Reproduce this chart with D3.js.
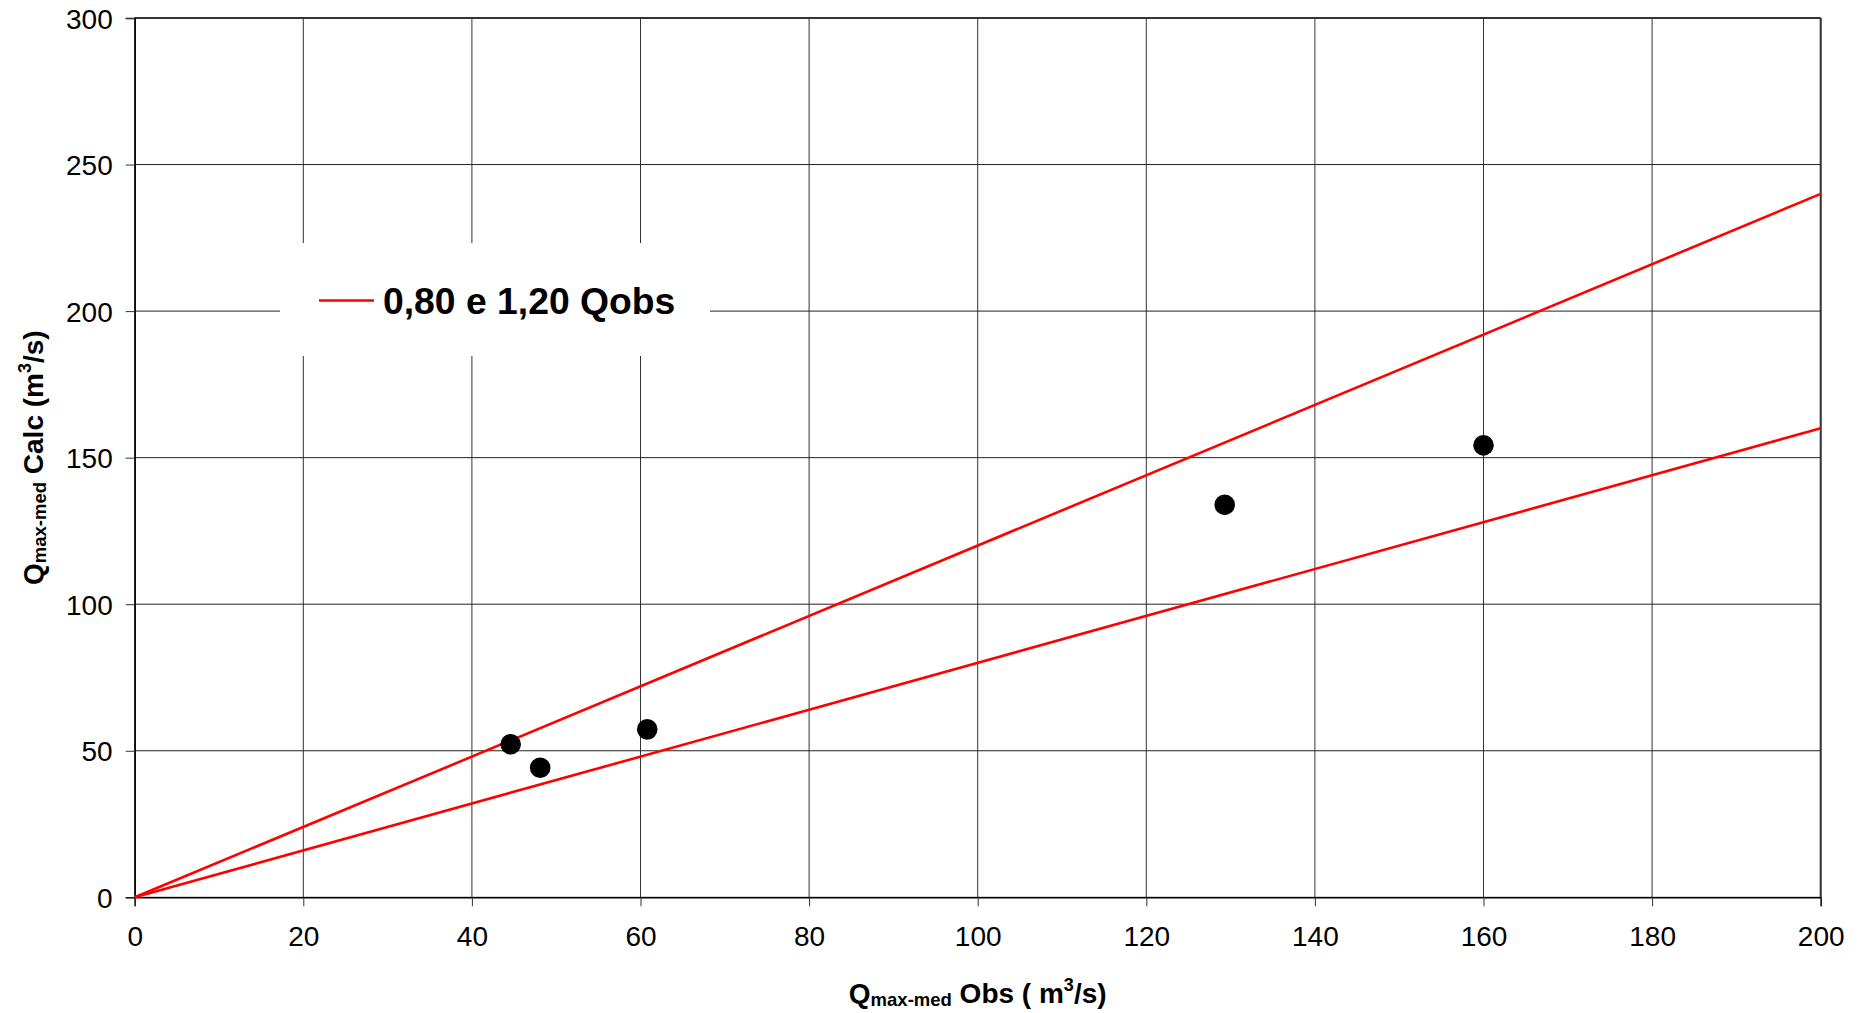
<!DOCTYPE html>
<html><head><meta charset="utf-8">
<script src="https://cdn.jsdelivr.net/npm/d3@7"></script>
<style>
html,body{margin:0;padding:0;background:#fff;}
svg{display:block;font-family:"Liberation Sans",Arial,sans-serif;}
</style></head>
<body>
<svg id="chart" width="1865" height="1013"></svg>
<script>
// Data
const obsValues = [44.6, 48.1, 60.8, 129.3, 160.0];
const calcValues = [52.2, 44.2, 57.3, 133.9, 154.2];
const bandFactors = [0.80, 1.20];
const bandX = [0, 200];
const xTicks = [0, 20, 40, 60, 80, 100, 120, 140, 160, 180, 200];
const yTicks = [0, 50, 100, 150, 200, 250, 300];
const legendLabel = "0,80 e 1,20 Qobs";

const svg = d3.select("#chart");
const L = 134.7, R = 1820.7, T = 18, B = 897.3;
const x = d3.scaleLinear().domain([0, 200]).range([L, R]);
const y = d3.scaleLinear().domain([0, 300]).range([B, T]);

// grid
const g = svg.append("g");
g.selectAll("line.vg").data(xTicks).join("line")
  .attr("x1", d => x(d)).attr("x2", d => x(d))
  .attr("y1", T).attr("y2", B)
  .attr("stroke", "#333").attr("stroke-width", 1);
g.selectAll("line.hg").data(yTicks).join("line")
  .attr("y1", d => y(d)).attr("y2", d => y(d))
  .attr("x1", L).attr("x2", R)
  .attr("stroke", "#222").attr("stroke-width", 1);
// borders
svg.append("line").attr("x1", L).attr("x2", R).attr("y1", T).attr("y2", T).attr("stroke", "#333").attr("stroke-width", 2);
svg.append("line").attr("x1", R).attr("x2", R).attr("y1", T).attr("y2", B).attr("stroke", "#333").attr("stroke-width", 2);

// axes
const xAxis = d3.axisBottom(x).tickValues(xTicks).tickSize(9).tickPadding(20).tickFormat(d3.format("d"));
const yAxis = d3.axisLeft(y).tickValues(yTicks).tickSize(9).tickPadding(13).tickFormat(d3.format("d"));
const gx = svg.append("g").attr("transform", `translate(0,${B})`).call(xAxis);
const gy = svg.append("g").attr("transform", `translate(${L},0)`).call(yAxis);
[gx, gy].forEach(a => {
  a.select(".domain").attr("stroke", "#000").attr("stroke-width", 1.5);
  a.selectAll(".tick line").attr("stroke", "#333").attr("stroke-width", 1);
  a.selectAll(".tick text").attr("font-family", "Liberation Sans, Arial, sans-serif")
    .attr("font-size", 28).attr("fill", "#000");
});
gy.selectAll(".tick text").attr("dy", "0.36em");
gx.selectAll(".tick text").attr("dy", "0.71em");

// legend box (white, covering gridlines)
const lg = svg.append("g");
lg.append("rect").attr("x", 280).attr("y", 243).attr("width", 430).attr("height", 113).attr("fill", "#fff");
lg.append("line").attr("x1", 319).attr("x2", 374).attr("y1", 300.5).attr("y2", 300.5)
  .attr("stroke", "#ff0000").attr("stroke-width", 2.6);
lg.append("text").attr("x", 383).attr("y", 313.5).attr("font-size", 37.3).attr("font-weight", "bold")
  .attr("fill", "#000").text(legendLabel);

// reference lines
const lineGen = d3.line().x(d => x(d[0])).y(d => y(d[1]));
svg.selectAll("path.band").data(bandFactors).join("path")
  .attr("d", f => lineGen(bandX.map(v => [v, v * f])))
  .attr("fill", "none").attr("stroke", "#ff0000").attr("stroke-width", 2.6);

// points
svg.selectAll("circle.pt").data(obsValues.map((v, i) => [v, calcValues[i]])).join("circle")
  .attr("cx", d => x(d[0])).attr("cy", d => y(d[1])).attr("r", 10.3).attr("fill", "#000");

// axis titles
const xt = svg.append("text").attr("x", (L + R) / 2).attr("y", 1003).attr("text-anchor", "middle")
  .attr("font-size", 28).attr("font-weight", "bold").attr("fill", "#000");
xt.append("tspan").text("Q");
xt.append("tspan").attr("font-size", 18.5).attr("dy", 3).text("max-med");
xt.append("tspan").attr("dy", -3).text(" Obs ( m");
xt.append("tspan").attr("font-size", 18).attr("dy", -12).text("3");
xt.append("tspan").attr("dy", 12).text("/s)");

const yt = svg.append("text").attr("transform", `translate(43,${(T + B) / 2}) rotate(-90)`)
  .attr("text-anchor", "middle").attr("font-size", 28).attr("font-weight", "bold").attr("fill", "#000");
yt.append("tspan").text("Q");
yt.append("tspan").attr("font-size", 18.5).attr("dy", 3).text("max-med");
yt.append("tspan").attr("dy", -3).text(" Calc (m");
yt.append("tspan").attr("font-size", 18).attr("dy", -12).text("3");
yt.append("tspan").attr("dy", 12).text("/s)");
</script>
</body></html>
